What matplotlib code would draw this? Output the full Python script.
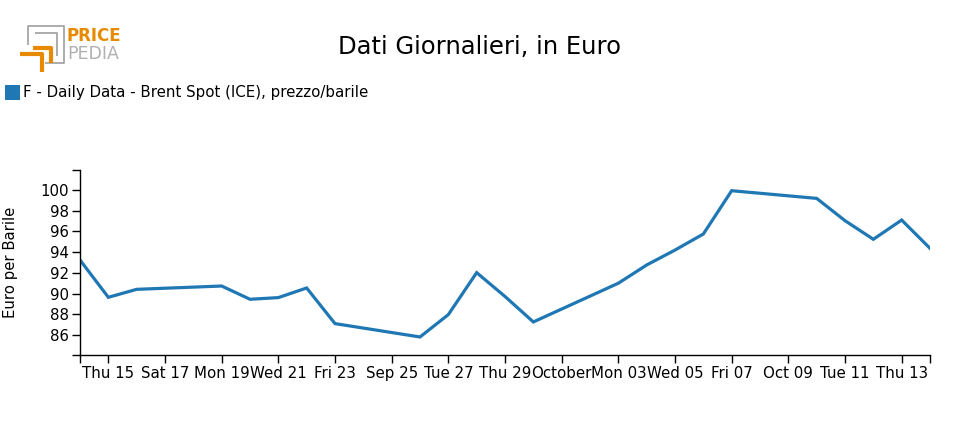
import datetime as dt
import matplotlib
matplotlib.use('Agg')
import matplotlib.pyplot as plt
import matplotlib.dates as mdates
from matplotlib.lines import Line2D
from matplotlib.patches import Rectangle

### daily Brent spot values (business days only)
dates = ['2022-09-14', '2022-09-15', '2022-09-16', '2022-09-19', '2022-09-20',
         '2022-09-21', '2022-09-22', '2022-09-23', '2022-09-26', '2022-09-27',
         '2022-09-28', '2022-09-29', '2022-09-30', '2022-10-03', '2022-10-04',
         '2022-10-05', '2022-10-06', '2022-10-07', '2022-10-10', '2022-10-11',
         '2022-10-12', '2022-10-13', '2022-10-14']
prices = [93.24, 89.64, 90.41, 90.73, 89.45,
          89.61, 90.54, 87.10, 85.81, 87.97,
          92.02, 89.72, 87.26, 91.00, 92.76,
          94.20, 95.75, 99.93, 99.19, 97.04,
          95.24, 97.10, 94.37]

tick_dates = ['2022-09-15', '2022-09-17', '2022-09-19', '2022-09-21', '2022-09-23',
              '2022-09-25', '2022-09-27', '2022-09-29', '2022-10-01', '2022-10-03',
              '2022-10-05', '2022-10-07', '2022-10-09', '2022-10-11', '2022-10-13']
tick_labels = ['Thu 15', 'Sat 17', 'Mon 19', 'Wed 21', 'Fri 23',
               'Sep 25', 'Tue 27', 'Thu 29', 'October', 'Mon 03',
               'Wed 05', 'Fri 07', 'Oct 09', 'Tue 11', 'Thu 13']
y_ticks = [86, 88, 90, 92, 94, 96, 98, 100]

series_name = 'F - Daily Data - Brent Spot (ICE), prezzo/barile'
line_color = '#1f77b4'

to_date = lambda s: dt.datetime.strptime(s, '%Y-%m-%d')
x = [to_date(d) for d in dates]
xt = [to_date(d) for d in tick_dates]

W, H = 960, 430
fig = plt.figure(figsize=(W / 100, H / 100), dpi=100)

### main axes placed by pixel box (80..930, 170..355)
ax = fig.add_axes([80 / W, 1 - 355 / H, 850 / W, 185 / H])
ax.plot(x, prices, color=line_color, linewidth=2.3, solid_joinstyle='miter')

ax.set_xlim(x[0], x[-1])
ax.set_ylim(84.07, 101.93)

ax.set_xticks(xt)
ax.set_xticklabels(tick_labels)
ax.set_yticks(y_ticks)
ax.set_yticklabels([str(v) for v in y_ticks])

### outer ticks at the ends of each axis, like d3
ax.set_xticks([mdates.date2num(x[0]), mdates.date2num(x[-1])], minor=True)
ax.set_yticks([84.07, 101.93], minor=True)

ax.tick_params(axis='both', which='both', length=6, width=1, color='black',
               labelsize=10.8, labelcolor='black')
ax.tick_params(axis='x', which='major', pad=2)
ax.tick_params(axis='y', which='major', pad=2)

for side in ['top', 'right']:
    ax.spines[side].set_visible(False)
for side in ['left', 'bottom']:
    ax.spines[side].set_linewidth(1)
    ax.spines[side].set_color('black')

fig.text(11 / W, 1 - 262 / H, 'Euro per Barile', rotation=90, ha='center', va='center',
         fontsize=10.7)

### title
fig.text(480 / W, 1 - 47 / H, 'Dati Giornalieri, in Euro', ha='center', va='center',
         fontsize=17.5)

### legend square and label
fig.patches.append(Rectangle((5 / W, 1 - 100 / H), 15 / W, 15 / H,
                             transform=fig.transFigure, facecolor=line_color,
                             edgecolor='none'))
fig.text(23 / W, 1 - 93 / H, series_name, ha='left', va='center', fontsize=10.8)

### simple pricepedia logo
def px_line(xs, ys, color, lw):
    fig.lines.append(Line2D([v / W for v in xs], [1 - v / H for v in ys],
                            transform=fig.transFigure, color=color, linewidth=lw,
                            solid_capstyle='butt'))

gray = '#a6a6a6'
orange = '#e88a00'
px_line([28, 28, 64, 64, 45], [45, 26, 26, 63, 63], gray, 1.3)
px_line([35, 57, 57], [33, 33, 56], gray, 1.3)
px_line([33, 51, 51], [48, 48, 63], orange, 3)
px_line([20, 42, 42], [54, 54, 72], orange, 3)
fig.text(67 / W, 1 - 36 / H, 'PRICE', ha='left', va='center', fontsize=12,
         fontweight='bold', color=orange)
fig.text(67 / W, 1 - 54 / H, 'PEDIA', ha='left', va='center', fontsize=12.5,
         color='#b0b0b0')

fig.savefig('out.png', dpi=100)
